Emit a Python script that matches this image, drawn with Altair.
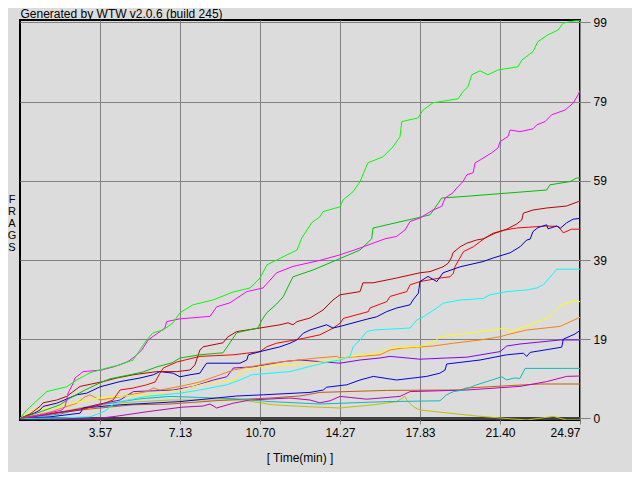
import altair as alt
import pandas as pd

# ---------------- data (time in minutes, frags) ----------------
lime_t = [0, 0.30, 1.19, 2.08, 2.53, 3.12, 3.87, 4.46, 5.04, 5.65, 5.93, 6.38, 6.82, 7.13, 7.71, 8.60, 9.50, 10.25, 10.70, 11.01, 11.73, 12.35, 12.56, 13.00, 13.37, 13.51, 14.27, 14.40, 14.85, 15.16, 15.51, 16.18, 16.63, 16.94, 17.02, 17.74, 17.97, 18.41, 19.53, 19.75, 19.97, 20.14, 20.51, 20.86, 21.31, 22.20, 22.37, 22.87, 23.09, 23.54, 23.99, 24.21, 24.74, 24.97]
lime_v = [0, 2.1, 6.7, 7.9, 9.6, 11.4, 12.6, 13.4, 14.6, 19.6, 21.4, 22.1, 23.9, 26.4, 28.4, 29.6, 31.6, 32.6, 35.1, 38.4, 40.4, 42.1, 45.1, 48.9, 50.4, 51.7, 52.9, 54.6, 56.7, 59.2, 63.9, 65.4, 67.9, 70.4, 74.2, 75.1, 77.1, 78.9, 79.9, 81.7, 82.9, 85.9, 86.9, 85.9, 87.1, 87.9, 89.6, 91.7, 94.2, 95.9, 97.1, 98.8, 99.4, 99.4]

magenta_t = [0, 1.11, 1.87, 2.01, 2.15, 2.38, 2.45, 2.82, 3.64, 4.24, 4.81, 5.13, 5.43, 5.71, 6.46, 6.54, 7.13, 8.47, 8.77, 9.36, 10.11, 10.83, 11.44, 12.17, 13.37, 14.27, 15.16, 16.27, 16.79, 17.16, 17.39, 17.83, 18.41, 18.80, 18.95, 19.30, 19.47, 19.75, 19.92, 20.20, 20.29, 20.51, 21.03, 21.31, 21.40, 21.76, 21.85, 22.29, 22.87, 23.04, 23.41, 23.70, 24.30, 24.66, 24.88, 24.97]
magenta_v = [0, 1.1, 2.1, 3.0, 6.4, 8.9, 10.1, 11.7, 12.1, 13.0, 14.2, 15.5, 17.1, 19.6, 22.6, 24.2, 24.9, 25.5, 27.9, 28.9, 31.7, 32.6, 36.4, 38.0, 39.5, 40.9, 42.6, 44.9, 45.5, 47.1, 49.2, 50.1, 52.1, 53.0, 55.1, 56.4, 57.6, 59.2, 60.9, 61.4, 63.9, 64.6, 66.4, 67.6, 69.2, 70.5, 72.1, 71.7, 72.4, 73.4, 74.2, 75.9, 77.1, 78.8, 80.9, 82.0]

dkgreen_t = [0, 0.89, 1.78, 2.23, 2.90, 3.57, 4.01, 4.90, 5.48, 6.11, 6.78, 7.13, 8.02, 9.05, 9.36, 9.66, 9.88, 10.61, 10.78, 11.00, 11.44, 11.73, 12.17, 13.06, 13.82, 15.16, 15.68, 15.74, 17.69, 18.28, 18.50, 18.80, 19.84, 23.48, 23.63, 24.52, 24.82, 24.97]
dkgreen_v = [0, 1.6, 3.4, 5.1, 7.1, 8.9, 9.9, 10.9, 11.6, 12.9, 13.9, 15.1, 15.9, 16.4, 18.9, 21.4, 21.7, 22.6, 24.6, 26.4, 28.6, 30.4, 35.4, 37.1, 38.9, 42.1, 44.9, 47.6, 50.1, 50.9, 52.6, 55.1, 55.5, 57.1, 58.4, 59.2, 60.1, 60.1]

dkred_t = [0, 0.45, 0.89, 1.03, 1.64, 2.08, 2.68, 3.70, 4.31, 5.04, 6.09, 6.99, 7.58, 7.80, 8.02, 8.16, 9.05, 9.27, 9.66, 10.70, 11.59, 11.95, 12.17, 12.35, 12.93, 13.51, 13.95, 14.27, 15.16, 15.29, 15.74, 16.79, 17.83, 18.28, 18.86, 19.09, 19.25, 19.30, 19.62, 19.92, 20.36, 20.65, 21.18, 21.70, 22.14, 22.37, 22.44, 22.87, 23.48, 24.37, 24.89, 24.97]
dkred_v = [0, 1.1, 3.0, 3.9, 4.6, 5.5, 8.0, 9.2, 10.1, 10.9, 11.7, 11.7, 12.1, 13.4, 17.1, 17.9, 18.9, 20.4, 21.7, 22.6, 23.4, 23.9, 23.4, 24.2, 25.1, 27.1, 29.6, 30.9, 31.7, 33.9, 33.9, 35.1, 36.4, 36.7, 37.9, 38.8, 40.4, 41.4, 42.9, 43.8, 44.6, 44.9, 46.3, 47.3, 48.6, 49.6, 51.3, 52.1, 52.6, 53.1, 54.2, 54.2]

navy_t = [0, 0.67, 0.89, 1.03, 1.64, 2.53, 2.97, 3.57, 4.46, 5.35, 5.94, 6.24, 6.83, 7.13, 7.58, 8.02, 8.17, 8.32, 9.81, 10.11, 10.18, 10.70, 11.59, 12.04, 12.34, 12.63, 12.93, 13.67, 13.95, 14.27, 15.46, 15.90, 16.35, 16.79, 17.39, 17.52, 17.76, 17.83, 18.19, 18.58, 18.86, 19.62, 20.64, 21.09, 21.85, 22.29, 22.59, 22.74, 22.87, 23.09, 23.48, 23.54, 23.93, 24.08, 24.37, 24.66, 24.97]
navy_v = [0, 1.4, 2.1, 3.0, 3.8, 5.9, 6.3, 7.9, 9.2, 10.1, 10.9, 11.7, 11.3, 10.4, 10.9, 11.3, 12.6, 13.8, 13.8, 14.6, 15.9, 16.7, 17.9, 18.8, 19.6, 21.3, 22.1, 23.4, 22.6, 23.0, 24.8, 25.4, 26.7, 27.6, 28.4, 29.6, 31.3, 34.2, 35.5, 34.2, 36.4, 37.9, 39.2, 40.1, 41.4, 42.9, 44.6, 44.8, 46.7, 47.7, 48.4, 47.4, 48.1, 47.5, 48.9, 49.8, 50.0]

red_t = [0, 1.34, 2.68, 3.57, 4.15, 4.31, 4.46, 5.05, 5.65, 6.02, 6.24, 6.39, 6.99, 8.02, 9.50, 10.11, 10.70, 11.00, 11.44, 12.63, 13.37, 13.97, 14.27, 14.42, 15.53, 15.60, 16.35, 16.50, 17.24, 17.39, 17.83, 18.72, 19.17, 19.32, 19.39, 19.77, 20.21, 20.73, 21.09, 21.62, 22.14, 23.48, 24.00, 24.22, 24.59, 24.97]
red_v = [0, 1.1, 2.1, 3.4, 4.6, 5.9, 7.1, 7.6, 8.4, 9.1, 11.3, 12.6, 14.1, 15.5, 15.9, 16.3, 16.7, 17.9, 18.8, 20.0, 20.9, 22.6, 23.8, 25.0, 26.7, 27.6, 29.2, 30.5, 31.7, 33.4, 34.2, 35.1, 35.4, 36.3, 37.9, 41.7, 42.9, 45.1, 46.3, 47.1, 47.6, 48.1, 48.0, 46.4, 47.3, 47.3]

cyan_t = [0, 1.78, 3.12, 3.57, 3.87, 4.01, 4.46, 5.65, 7.13, 8.02, 9.22, 9.81, 10.33, 11.15, 12.04, 12.93, 13.82, 14.27, 14.71, 14.86, 15.16, 15.46, 15.75, 17.39, 17.69, 17.98, 18.58, 18.87, 19.62, 20.66, 20.95, 21.70, 22.59, 23.04, 23.33, 23.78, 23.93, 24.97]
cyan_v = [0, 0.1, 0.4, 1.3, 2.1, 3.0, 4.2, 5.5, 6.3, 7.1, 8.4, 9.6, 10.9, 11.3, 11.7, 13.0, 14.2, 14.6, 15.5, 18.0, 19.6, 21.7, 22.1, 22.6, 24.6, 25.4, 27.6, 28.8, 29.6, 30.0, 30.9, 31.7, 32.1, 32.6, 33.4, 36.3, 37.3, 37.3]

yellow_t = [0, 0.58, 1.78, 2.68, 3.57, 4.46, 5.80, 7.13, 8.32, 9.51, 9.73, 10.11, 10.70, 11.89, 12.93, 14.12, 14.71, 16.05, 16.50, 17.83, 18.58, 18.72, 21.10, 21.62, 21.85, 22.74, 23.63, 23.78, 24.08, 24.52, 24.97]
yellow_v = [0, 2.1, 3.1, 4.2, 5.1, 5.5, 6.1, 7.1, 8.8, 9.6, 10.9, 12.1, 12.9, 13.4, 13.8, 14.6, 15.5, 16.3, 17.6, 18.0, 19.6, 20.4, 22.1, 22.6, 21.7, 23.4, 25.4, 26.3, 28.0, 29.2, 29.2]

orange_t = [0, 1.34, 2.53, 2.90, 3.12, 3.57, 4.46, 5.65, 5.94, 6.24, 7.13, 8.02, 8.92, 9.51, 10.25, 11.15, 13.23, 14.12, 14.27, 16.05, 16.50, 17.09, 18.43, 19.32, 20.51, 21.40, 21.70, 22.59, 24.08, 24.97]
orange_v = [0, 1.6, 3.8, 5.4, 5.9, 4.6, 5.4, 6.7, 7.6, 7.1, 8.0, 9.1, 10.9, 12.1, 12.9, 13.8, 15.1, 15.5, 15.1, 15.9, 17.1, 17.6, 18.1, 18.8, 19.6, 20.4, 20.9, 22.1, 23.0, 25.3]

blue_t = [0, 1.34, 2.68, 2.82, 4.46, 7.13, 9.66, 10.85, 12.93, 13.52, 13.67, 14.57, 15.16, 15.75, 16.79, 18.13, 18.72, 18.95, 19.02, 20.51, 21.70, 22.44, 22.59, 22.74, 24.15, 24.22, 24.74, 24.97]
blue_v = [0, 0.4, 1.3, 2.6, 3.4, 4.2, 5.6, 5.9, 6.5, 7.1, 7.8, 8.4, 9.6, 10.5, 9.6, 10.5, 11.3, 12.1, 13.6, 14.6, 15.9, 16.3, 15.5, 16.5, 17.8, 19.8, 21.1, 22.0]

purple_t = [0, 1.34, 2.68, 3.57, 4.46, 5.05, 6.83, 7.73, 8.62, 9.22, 9.51, 10.40, 11.74, 12.48, 13.37, 14.27, 15.16, 16.05, 16.50, 17.83, 19.02, 19.92, 21.40, 21.70, 22.29, 24.08, 24.97]
purple_v = [0, 1.1, 2.4, 3.6, 4.6, 6.7, 7.1, 8.0, 9.6, 10.4, 12.6, 12.9, 14.2, 14.6, 14.2, 13.8, 14.6, 15.1, 15.5, 14.8, 15.1, 15.3, 16.7, 18.1, 18.6, 19.6, 19.6]

teal_t = [0, 1.78, 3.57, 5.35, 6.69, 9.66, 11.15, 13.37, 16.35, 18.72, 19.02, 19.32, 19.77, 20.36, 20.81, 21.48, 21.70, 22.02, 22.29, 22.52, 24.97]
teal_v = [0, 1.1, 3.4, 4.9, 5.5, 4.9, 4.2, 3.6, 4.2, 4.4, 5.9, 6.7, 7.1, 8.4, 9.2, 10.4, 9.6, 10.1, 10.0, 12.5, 12.5]

dkmag_t = [0, 1.78, 3.48, 4.24, 5.71, 7.21, 8.17, 8.47, 8.77, 9.51, 10.25, 12.04, 12.93, 13.37, 13.82, 14.27, 15.46, 16.94, 17.39, 19.92, 22.29, 23.48, 24.37, 24.97]
dkmag_v = [0, 0, 0, 0.5, 1.7, 2.8, 3.1, 3.6, 2.6, 3.8, 4.6, 5.1, 4.6, 3.9, 4.4, 5.5, 4.8, 5.5, 6.7, 7.1, 8.0, 9.2, 10.5, 10.6]

brown_t = [0, 1.78, 3.57, 5.04, 6.69, 8.92, 11.15, 12.48, 13.37, 16.35, 19.62, 19.92, 23.18, 24.97]
brown_v = [0, 1.6, 2.6, 3.4, 3.6, 4.5, 5.1, 5.6, 6.5, 7.0, 7.1, 7.6, 8.6, 8.6]

olive_t = [0, 1.78, 3.57, 6.69, 9.89, 11.29, 12.93, 14.27, 15.75, 16.79, 17.17, 17.24, 17.54, 17.83, 19.17, 20.36, 21.40, 22.59, 23.78, 24.37, 24.97]
olive_v = [0, 1.6, 3.6, 4.6, 4.6, 3.4, 2.9, 2.6, 3.4, 4.2, 5.5, 4.6, 2.9, 2.1, 1.3, 0.6, 0.1, -0.4, 0.5, -0.4, -0.4]

zero_t = [0, 24.97]
zero_v = [0, 0]

series = [
    ("olive", olive_t, olive_v, "#c0c000"),
    ("brown", brown_t, brown_v, "#c06000"),
    ("dkmag", dkmag_t, dkmag_v, "#c000c0"),
    ("teal", teal_t, teal_v, "#00c0c0"),
    ("purple", purple_t, purple_v, "#8000ff"),
    ("blue", blue_t, blue_v, "#0000ff"),
    ("orange", orange_t, orange_v, "#ff8000"),
    ("yellow", yellow_t, yellow_v, "#ffff00"),
    ("cyan", cyan_t, cyan_v, "#00ffff"),
    ("red", red_t, red_v, "#ff0000"),
    ("navy", navy_t, navy_v, "#0000c8"),
    ("dkred", dkred_t, dkred_v, "#c00000"),
    ("dkgreen", dkgreen_t, dkgreen_v, "#00c000"),
    ("magenta", magenta_t, magenta_v, "#ff00ff"),
    ("lime", lime_t, lime_v, "#00ff00"),
]

x_ticks = [3.5666, 7.1331, 10.6997, 14.2663, 17.8329, 21.3994, 24.966]
y_ticks = [0, 19.8, 39.6, 59.4, 79.2, 99]
frag_letters = ["F", "R", "A", "G", "S"]

rows = []
for i, (name, ts, vs, col) in enumerate(series):
    for t, v in zip(ts, vs):
        rows.append({"player": name, "t": t, "v": v, "ord": i})
df = pd.DataFrame(rows)
names = [s[0] for s in series]
colors = [s[3] for s in series]

FONT = "Liberation Sans"

xscale = alt.Scale(domain=[0, 24.966], nice=False, zero=False)
yscale = alt.Scale(domain=[-0.4, 99.6], nice=False, zero=False)

xaxis = alt.Axis(values=x_ticks, format=".2f", grid=True, gridColor="#808080",
                 gridOpacity=1, gridWidth=1, tickColor="#808080", tickSize=4,
                 domain=False, labelFont=FONT, labelFontSize=12, labelColor="#000000",
                 labelPadding=3, title=None)
yaxis = alt.Axis(orient="right", values=y_ticks, labelExpr="floor(datum.value)",
                 grid=True, gridColor="#808080", gridOpacity=1, gridWidth=1,
                 tickColor="#808080", tickSize=10, domain=False, labelFont=FONT,
                 labelFontSize=12, labelColor="#000000", labelPadding=3, title=None)

zero_df = pd.DataFrame({"t": zero_t, "v": zero_v})
zero_line = alt.Chart(zero_df).mark_line(color="#404040", strokeWidth=3, clip=True).encode(
    x=alt.X("t:Q", scale=xscale, axis=xaxis),
    y=alt.Y("v:Q", scale=yscale, axis=yaxis),
)

lines = alt.Chart(df).mark_line(strokeWidth=1, clip=True, interpolate="linear").encode(
    x=alt.X("t:Q", scale=xscale, axis=xaxis),
    y=alt.Y("v:Q", scale=yscale, axis=yaxis),
    color=alt.Color("player:N", scale=alt.Scale(domain=names, range=colors), legend=None),
    detail="player:N",
)

title_df = pd.DataFrame({"s": ["Generated by WTW v2.0.6 (build 245)"]})
title_txt = alt.Chart(title_df).mark_text(align="left", baseline="alphabetic", font=FONT,
                                          fontSize=12, color="#000000").encode(
    text="s:N", x=alt.value(0.5), y=alt.value(-2))

frags_df = pd.DataFrame({"s": ["\n".join(frag_letters)]})
frags_txt = alt.Chart(frags_df).mark_text(align="center", baseline="top", font=FONT,
                                          fontSize=11, lineHeight=12, lineBreak="\n",
                                          color="#000000").encode(
    text="s:N", x=alt.value(-8), y=alt.value(173.5))

xt_df = pd.DataFrame({"s": ["[ Time(min) ]"]})
xt_txt = alt.Chart(xt_df).mark_text(align="center", baseline="middle", font=FONT,
                                    fontSize=12, color="#000000").encode(
    text="s:N", x=alt.value(280), y=alt.value(438))

chart = alt.layer(zero_line, lines, title_txt, frags_txt, xt_txt).properties(
    width=560, height=400,
    autosize=alt.AutoSizeParams(type="none"),
    padding={"left": 12, "top": 12, "right": 52, "bottom": 52},
    background="#dcdcdc",
).configure_view(stroke="#000000", strokeWidth=2)

chart.save("out.html", embed_options={"renderer": "svg", "actions": False})
